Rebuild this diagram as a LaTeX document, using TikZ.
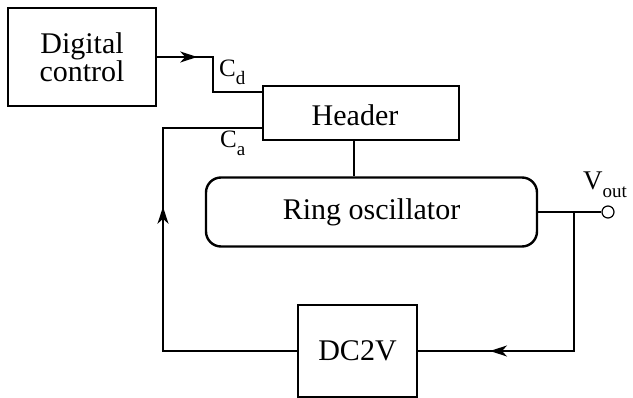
\documentclass[tikz,border=0pt]{standalone}
\usepackage{fontspec}
\setmainfont{Liberation Serif}
\usetikzlibrary{arrows.meta, decorations.markings}
\tikzset{
	blocknode/.style={
			shape=rectangle,
			draw=black,
			line width=2.4pt,
			inner sep=0pt,
			align=center,
			font=\fontsize{30}{28}\selectfont
		},
	ringnode/.style={
			blocknode,
			rounded corners=15pt
		},
	portnode/.style={
			circle,
			draw=black,
			line width=1.2pt,
			fill=white,
			minimum size=12pt,
			inner sep=0pt
		},
	wire/.style={line width=1.3pt},
	midarrow/.style={
			postaction={decorate},
			decoration={markings,
					mark=at position #1 with {\arrow{Stealth[length=17pt,width=11pt,inset=5pt]}}}
		}
}
\tikzset{
	labeltext/.style={anchor=base west, inner sep=0pt, font=\fontsize{25}{25}\selectfont}
}
\newcommand{\lowsub}[1]{\raisebox{-8pt}{\fontsize{19}{19}\selectfont #1}}

\begin{document}
\begin{tikzpicture}[x=1pt, y=-1pt]
			\useasboundingbox (0,0) rectangle (633,398);

			\node[blocknode, minimum width=148pt, minimum height=98pt] (dctrl) at (82,57) {Digital\\control};
			\node[blocknode, minimum width=196pt, minimum height=54pt] (hdr) at (361,113) {};
			\node[ringnode, minimum width=331pt, minimum height=69pt] (ring) at (371.5,212) {Ring oscillator};
			\node[blocknode, minimum width=119pt, minimum height=92pt] (dcv) at (357.5,351) {DC2V};
			\node[portnode] (vout) at (608,212) {};

			\node[font=\fontsize{30}{28}\selectfont] at (355,115) {Header};

			\coordinate (cdbend) at (213,92);
			\coordinate (cabend) at (163,128);
			\coordinate (tap) at (574,212);

			\node[labeltext] (cdlabel) at (219,77) {C\lowsub{d}};
			\node[labeltext] (calabel) at (220,148) {C\lowsub{a}};
			\node[labeltext, font=\fontsize{27}{27}\selectfont] (voutlabel) at (583,190) {V\lowsub{out}};

			\draw[wire, midarrow=40pt] (dctrl.east) -| (cdbend) -- ([yshift=21pt]hdr.west);
			\draw[wire, midarrow=278pt] (dcv.west) -| (cabend) -- ([yshift=-15pt]hdr.west);
			\draw[wire] ([xshift=-7pt]hdr.south) -- ([xshift=-7pt]hdr.south |- ring.north);
			\draw[wire] (ring.east) -- (vout);
			\draw[wire, midarrow=223pt] (tap) |- (dcv.east);

		\end{tikzpicture}
\end{document}
